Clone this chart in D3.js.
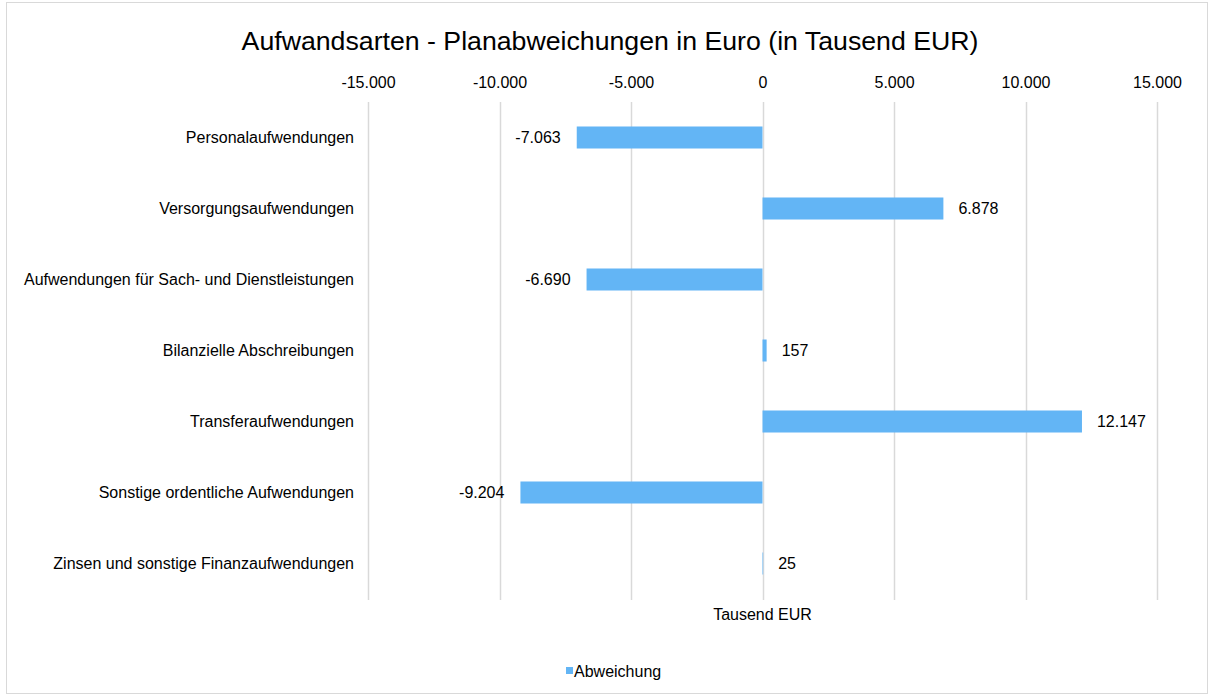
<!DOCTYPE html>
<html>
<head>
<meta charset="utf-8">
<script src="https://cdn.jsdelivr.net/npm/d3@7/dist/d3.min.js"></script>
<style>
  body { margin: 0; background: #fff; }
  text { font-family: "Liberation Sans", Arial, sans-serif; fill: #000; }
</style>
</head>
<body>
<div id="chart"></div>
<script>
var categories = [
  "Personalaufwendungen",
  "Versorgungsaufwendungen",
  "Aufwendungen für Sach- und Dienstleistungen",
  "Bilanzielle Abschreibungen",
  "Transferaufwendungen",
  "Sonstige ordentliche Aufwendungen",
  "Zinsen und sonstige Finanzaufwendungen"
];
var abweichung = [-7063, 6878, -6690, 157, 12147, -9204, 25];
var tickValues = [-15000, -10000, -5000, 0, 5000, 10000, 15000];

const W = 1209, H = 696;
const FONT = '"Liberation Sans", Arial, sans-serif';
const fmt = d3.formatLocale({ decimal: ",", thousands: ".", grouping: [3], currency: ["", "€"], minus: "-" }).format(",d");

const svg = d3.select('#chart').append('svg')
  .attr('width', W).attr('height', H);

// chart border
svg.append('rect')
  .attr('x', 6.5).attr('y', 2.5).attr('width', W - 8).attr('height', H - 5)
  .attr('fill', '#fff').attr('stroke', '#d9d9d9');

const x = d3.scaleLinear().domain([-15000, 15000]).range([368, 1157]);
const y = d3.scaleBand().domain(categories).range([102, 599]).paddingInner(0.69).paddingOuter(0.345);

// title
svg.append('text')
  .attr('x', 610).attr('y', 50)
  .attr('text-anchor', 'middle')
  .attr('font-size', '26.7px')
  .text('Aufwandsarten - Planabweichungen in Euro (in Tausend EUR)');

// grid lines
svg.selectAll('line.grid')
  .data(tickValues)
  .enter().append('line')
  .attr('class', 'grid')
  .attr('x1', d => Math.round(x(d)) + 0.5)
  .attr('x2', d => Math.round(x(d)) + 0.5)
  .attr('y1', 102).attr('y2', 600)
  .attr('stroke', '#d9d9d9').attr('stroke-width', 1.5);

// top axis labels
const axis = svg.append('g')
  .attr('transform', 'translate(0,94)')
  .call(d3.axisTop(x).tickValues(tickValues).tickFormat(fmt).tickSize(0).tickPadding(6));
axis.select('.domain').remove();
axis.selectAll('text').attr('font-size', '16px').attr('font-family', FONT);

// category labels
const yAxis = svg.append('g')
  .attr('transform', 'translate(354,0)')
  .call(d3.axisLeft(y).tickSize(0).tickPadding(0));
yAxis.select('.domain').remove();
yAxis.selectAll('text').attr('font-size', '16px').attr('font-family', FONT);

// bars
svg.selectAll('rect.bar')
  .data(abweichung)
  .enter().append('rect')
  .attr('class', 'bar')
  .attr('x', d => x(Math.min(0, d)))
  .attr('y', (d, i) => y(categories[i]))
  .attr('width', d => Math.abs(x(d) - x(0)))
  .attr('height', y.bandwidth())
  .attr('fill', '#63b5f5');

// value labels
svg.selectAll('text.val')
  .data(abweichung)
  .enter().append('text')
  .attr('class', 'val')
  .attr('x', d => d < 0 ? x(d) - 16 : x(d) + 15)
  .attr('y', (d, i) => y(categories[i]) + y.bandwidth() / 2)
  .attr('dy', '0.35em')
  .attr('text-anchor', d => d < 0 ? 'end' : 'start')
  .attr('font-size', '16px')
  .text(d => fmt(d));

// axis title
svg.append('text')
  .attr('x', x(0)).attr('y', 620)
  .attr('text-anchor', 'middle')
  .attr('font-size', '16px')
  .text('Tausend EUR');

// legend
svg.append('rect')
  .attr('x', 566).attr('y', 667).attr('width', 7).attr('height', 7)
  .attr('fill', '#63b5f5');
svg.append('text')
  .attr('x', 574).attr('y', 677)
  .attr('font-size', '16px')
  .text('Abweichung');
</script>
</body>
</html>
